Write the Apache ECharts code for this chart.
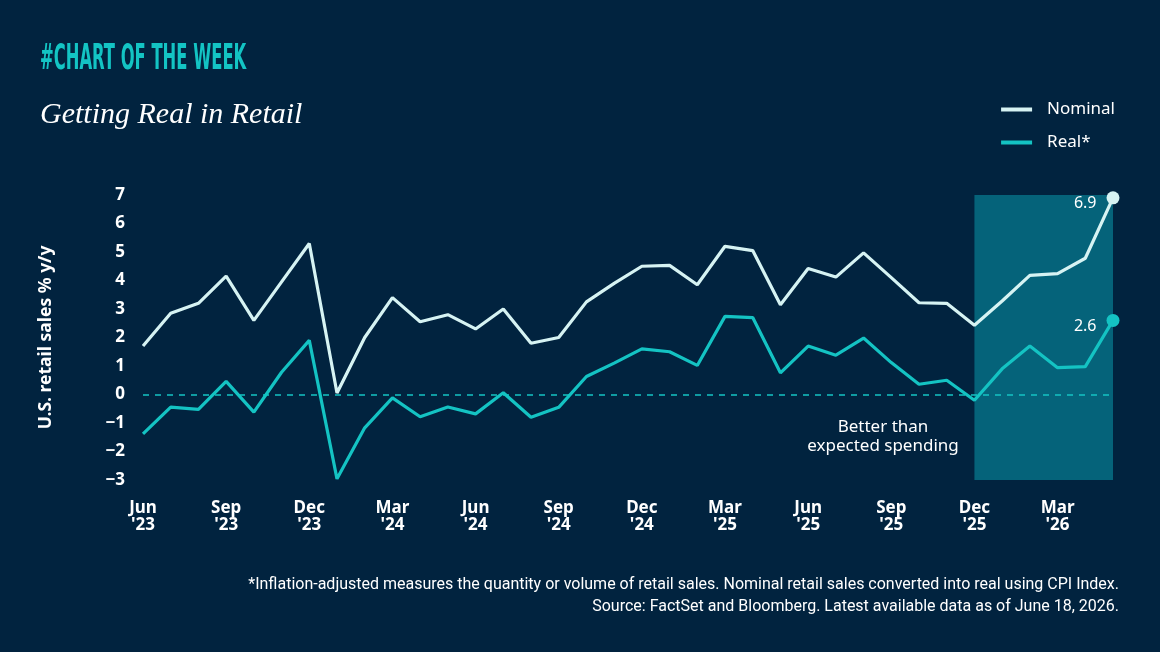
<!DOCTYPE html>
<html>
<head>
<meta charset="utf-8">
<script src="https://cdn.jsdelivr.net/npm/echarts@6/dist/echarts.min.js"></script>
<style>
  html, body { margin: 0; padding: 0; background: #01233f; }
  #chart { width: 1160px; height: 652px; }
</style>
</head>
<body>
<div id="chart"></div>
<script>
// Monthly retail sales, % y/y, Jun '23 .. May '26
const months = [
    "Jun '23", "Jul '23", "Aug '23", "Sep '23", "Oct '23", "Nov '23", "Dec '23",
    "Jan '24", "Feb '24", "Mar '24", "Apr '24", "May '24", "Jun '24", "Jul '24", "Aug '24", "Sep '24", "Oct '24", "Nov '24", "Dec '24",
    "Jan '25", "Feb '25", "Mar '25", "Apr '25", "May '25", "Jun '25", "Jul '25", "Aug '25", "Sep '25", "Oct '25", "Nov '25", "Dec '25",
    "Jan '26", "Feb '26", "Mar '26", "Apr '26", "May '26"
];
const nominal = [
    1.7, 2.85, 3.2, 4.15, 2.6, 3.95, 5.3,
    0.05, 2.0, 3.4, 2.55, 2.8, 2.3, 3.0, 1.8, 2.0, 3.25, 3.9, 4.5,
    4.53, 3.85, 5.2, 5.05, 3.15, 4.42, 4.12, 4.97, 4.1, 3.22, 3.2, 2.43,
    3.28, 4.18, 4.24, 4.78, 6.9
];
const real = [
    -1.38, -0.44, -0.52, 0.46, -0.62, 0.78, 1.9,
    -2.96, -1.17, -0.12, -0.78, -0.44, -0.68, 0.06, -0.8, -0.45, 0.63, 1.1, 1.6,
    1.5, 1.02, 2.74, 2.7, 0.76, 1.7, 1.38, 1.98, 1.12, 0.36, 0.5, -0.2,
    0.9, 1.7, 0.94, 0.98, 2.6
];
const yTicks = { min: -3, max: 7, interval: 1 };
const shadeFrom = "Dec '25";
const shadeTo = "May '26";

const bg = "#01233f";
const cNominal = "#d6f3f3";
const cReal = "#14c3c3";
const cShade = "#05637a";
const font = "'Noto Sans', 'Open Sans', sans-serif";

const chart = echarts.init(document.getElementById("chart"), null, { renderer: "canvas" });

// label only the last point
function lastLabel(arr) {
    return arr.map((v, i) => i === arr.length - 1
        ? { value: v, symbol: "circle", symbolSize: 13,
            label: { show: true, position: "left", distance: 10, offset: [0, 6], color: "#ffffff", fontSize: 16, fontFamily: font, formatter: p => p.value.toFixed(1) } }
        : v);
}

chart.setOption({
    backgroundColor: bg,
    animation: false,
    grid: { left: 143, right: 47, top: 195, bottom: 172, containLabel: false },
    legend: {
        right: 40, top: 96, orient: "vertical", icon: "rect",
        itemWidth: 31, itemHeight: 4, itemGap: 16,
        textStyle: { color: "#ffffff", fontSize: 17, fontFamily: font, padding: [0, 0, 0, 10] },
        data: ["Nominal", "Real*"]
    },
    graphic: [
        { type: "text", left: 40, top: 42, scaleX: 0.505,
          style: { text: "#CHART OF THE WEEK", fill: "#13c4c4", font: "bold 36px 'Liberation Sans Narrow', 'DejaVu Sans Condensed', sans-serif" } },
        { type: "text", left: 40, top: 100,
          style: { text: "Getting Real in Retail", fill: "#ffffff", font: "italic 30px 'Liberation Serif', 'DejaVu Serif', serif" } },
        { type: "text", x: 883, y: 418, z: 10,
          style: { text: "Better than\nexpected spending", fill: "#ffffff", align: "center", font: "17px " + font, lineHeight: 19 } },
        { type: "text", x: 1119, y: 574, z: 10,
          style: { text: "*Inflation-adjusted measures the quantity or volume of retail sales. Nominal retail sales converted into real using CPI Index.\nSource: FactSet and Bloomberg. Latest available data as of June 18, 2026.",
                   fill: "#ffffff", align: "right", font: "16px Roboto, sans-serif", lineHeight: 22 } }
    ],
    xAxis: {
        type: "category", data: months, boundaryGap: false,
        axisLine: { show: false }, axisTick: { show: false },
        axisLabel: {
            interval: 2, margin: 20, color: "#ffffff", fontSize: 17, fontWeight: "bold", fontFamily: font, lineHeight: 17,
            formatter: v => v.replace(" ", "\n")
        },
        splitLine: { show: false }
    },
    yAxis: {
        type: "value", min: yTicks.min, max: yTicks.max, interval: yTicks.interval,
        name: "U.S. retail sales % y/y", nameLocation: "middle", nameGap: 88, nameRotate: 90,
        nameTextStyle: { color: "#ffffff", fontSize: 17.5, fontWeight: "bold", fontFamily: font },
        axisLine: { show: false }, axisTick: { show: false }, splitLine: { show: false },
        axisLabel: { margin: 18, color: "#ffffff", fontSize: 17, fontWeight: "bold", fontFamily: font,
                     formatter: v => String(v).replace("-", "\u2212") }
    },
    series: [
        {
            name: "Nominal", type: "line", data: lastLabel(nominal), color: cNominal,
            showSymbol: true, symbol: "none", lineStyle: { width: 3.2 }, z: 3,
            markArea: {
                silent: true, itemStyle: { color: cShade },
                data: [[{ xAxis: shadeFrom, yAxis: yTicks.max }, { xAxis: shadeTo, yAxis: yTicks.min }]]
            }
        },
        {
            name: "Real*", type: "line", data: lastLabel(real), color: cReal,
            showSymbol: true, symbol: "none", lineStyle: { width: 3.2 }, z: 3,
            markLine: {
                silent: true, symbol: "none", label: { show: false },
                lineStyle: { color: cReal, type: [6, 6], width: 1.5 },
                data: [{ yAxis: 0 }]
            }
        }
    ]
});
</script>
</body>
</html>
